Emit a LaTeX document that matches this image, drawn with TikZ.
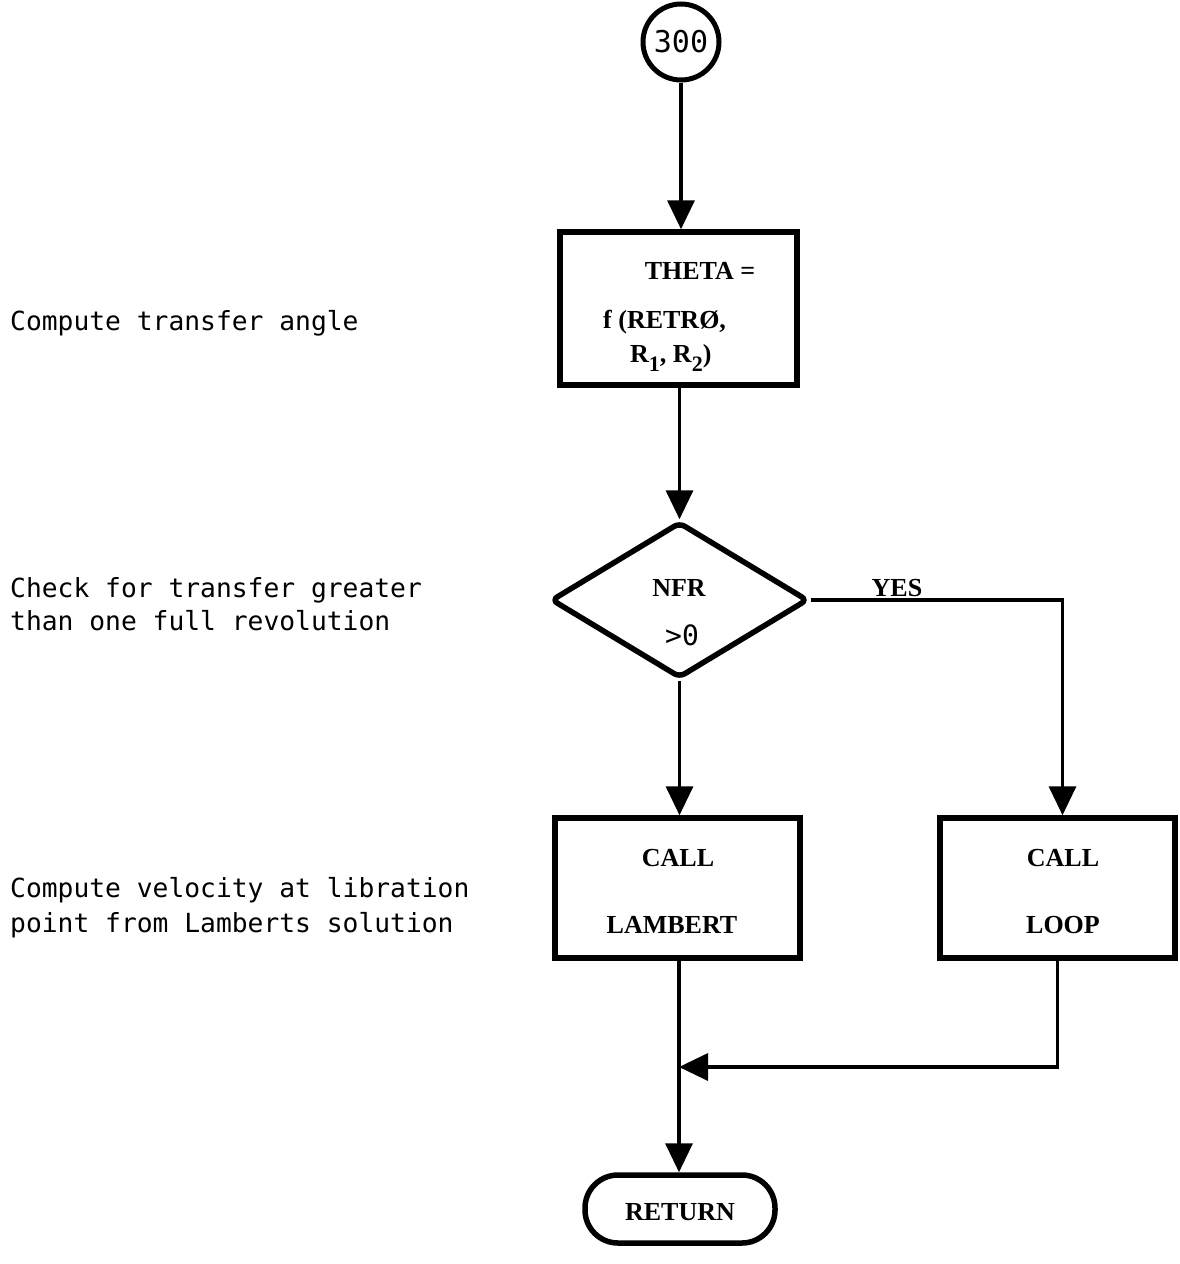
\documentclass[tikz,border=0pt]{standalone}
\usepackage{fontspec}
\setmainfont{Liberation Serif}
\newfontfamily\labfont{DejaVu Sans Mono}
\usetikzlibrary{shapes.geometric,arrows.meta}
\newcommand{\lowsub}[1]{\raisebox{-0.35em}{\fontsize{22}{24}\selectfont #1}}
\begin{document}
\begin{tikzpicture}[x=1pt,y=-1pt,
  proc/.style={draw,line width=5.5pt,minimum width=240pt,minimum height=150pt,inner sep=0pt},
  conn/.style={line width=3.5pt,-{Triangle[width=27pt,length=29pt]}},
  lab/.style={font=\labfont\fontsize{26.3}{32}\selectfont,anchor=west,align=left,inner sep=0pt},
  txt/.style={font=\bfseries\fontsize{26}{30}\selectfont,inner sep=0pt}]
\useasboundingbox (0,0) rectangle (1179,1264);
% nodes
\node[draw,circle,line width=5pt,minimum size=76pt,inner sep=0pt,font=\labfont\fontsize{30}{32}\selectfont] (c300) at (681,42) {300};
\node[proc,minimum width=237pt,minimum height=153pt] (theta) at (678.5,308.5) {};
\node[draw,diamond,line width=5.5pt,minimum width=257pt,minimum height=156pt,inner sep=0pt,rounded corners=6pt] (dec) at (679.5,600) {};
\node[proc,minimum width=245pt,minimum height=140pt] (lambert) at (677.5,888) {};
\node[proc,minimum width=235pt,minimum height=140pt] (loop) at (1057.5,888) {};
\node[draw,line width=5.5pt,rounded corners=33pt,minimum width=190pt,minimum height=68pt,inner sep=0pt] (ret) at (680,1209) {};
% texts in nodes
\node[txt] (t1) at (700,271) {THETA =};
\node[txt,anchor=west] (t2) at (603,322) {f (RETRØ,};
\node[txt,anchor=west] (t3) at (630,358) {R\lowsub{1}, R\lowsub{2})};
\node[txt] (n1) at (679,588) {NFR};
\node[txt,font=\labfont\fontsize{28}{30}\selectfont] (n2) at (682,635) {>0};
\node[txt] (y1) at (897,588) {YES};
\node[txt] (l1) at (678,858) {CALL};
\node[txt] (l2) at (672,925) {LAMBERT};
\node[txt] (p1) at (1063,858) {CALL};
\node[txt] (p2) at (1063,925) {LOOP};
\node[txt] (r1) at (680,1212) {RETURN};
% left labels
\node[lab] (a1) at (10,323) {Compute transfer angle};
\node[lab] (a2) at (10,590) {Check for transfer greater};
\node[lab] (a3) at (10,621) {than one full revolution};
\node[lab] (a4) at (10,890) {Compute velocity at libration};
\node[lab] (a5) at (10,925) {point from Lamberts solution};
% connectors
\coordinate (m) at (679,1067);
\draw[conn] (c300.south) -- (theta.north -| c300.south);
\draw[conn] (theta.south -| dec.north) -- (dec.north);
\draw[conn] (dec.south) -- (lambert.north -| dec.south);
\draw[conn] (dec.east) -| ([xshift=5pt]loop.north);
\draw[conn] (lambert.south -| m) -- (ret.north -| m);
\draw[conn] (loop.south) |- (m);
\end{tikzpicture}
\end{document}
